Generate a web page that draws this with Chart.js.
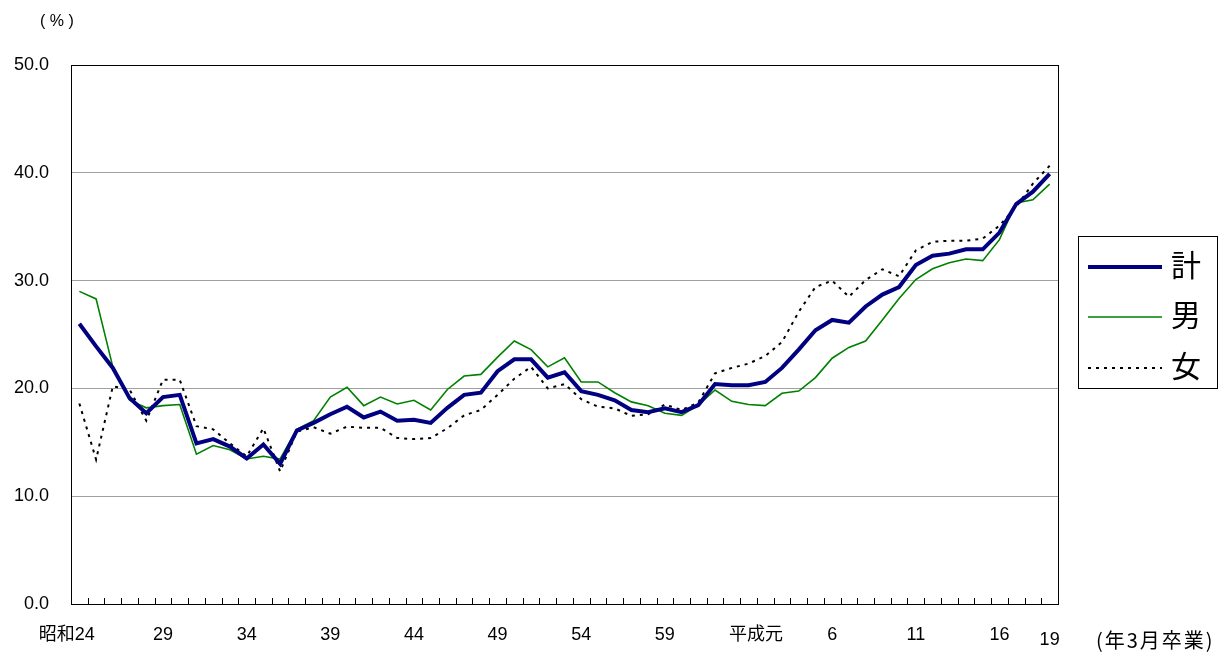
<!DOCTYPE html>
<html lang="ja">
<head>
<meta charset="utf-8">
<script src="https://cdn.jsdelivr.net/npm/chart.js@4.4.1/dist/chart.umd.min.js"></script>
<style>
  html, body { margin: 0; padding: 0; background: #fff; }
  #wrap { position: relative; width: 1232px; height: 652px; }
</style>
</head>
<body>
<div id="wrap"><canvas id="chart" width="1232" height="652"></canvas></div>
<script>
/* ── 데이터 (昭和24年 ~ 平成19年 3月卒業) ── */
var years = ['昭和24', '25', '26', '27', '28', '29', '30', '31', '32', '33',
             '34', '35', '36', '37', '38', '39', '40', '41', '42', '43',
             '44', '45', '46', '47', '48', '49', '50', '51', '52', '53',
             '54', '55', '56', '57', '58', '59', '60', '61', '62', '63',
             '平成元', '2', '3', '4', '5', '6', '7', '8', '9', '10',
             '11', '12', '13', '14', '15', '16', '17', '18', '19'];
var shownTicks = ['昭和24', '29', '34', '39', '44', '49', '54', '59', '平成元', '6', '11', '16', '19'];

var totalVals = [26.0, 23.9, 21.9, 19.1, 17.7, 19.2, 19.4, 14.9, 15.3, 14.6,
                 13.5, 14.8, 13.0, 16.1, 16.8, 17.6, 18.3, 17.3, 17.85, 17.0,
                 17.1, 16.8, 18.2, 19.4, 19.6, 21.6, 22.7, 22.7, 21.0, 21.5,
                 19.75, 19.4, 18.9, 18.0, 17.8, 18.15, 17.8, 18.45, 20.4, 20.3,
                 20.3, 20.6, 21.9, 23.6, 25.4, 26.35, 26.1, 27.6, 28.7, 29.4,
                 31.45, 32.3, 32.5, 32.9, 32.9, 34.45, 37.1, 38.25, 39.9];
var maleVals = [29.0, 28.3, 22.0, 18.9, 18.2, 18.4, 18.5, 13.9, 14.7, 14.3,
                13.45, 13.7, 13.45, 16.2, 17.0, 19.2, 20.1, 18.4, 19.2, 18.55,
                18.9, 18.0, 19.9, 21.15, 21.3, 22.9, 24.4, 23.6, 22.0, 22.85,
                20.6, 20.6, 19.6, 18.75, 18.4, 17.7, 17.5, 18.45, 19.85, 18.8,
                18.5, 18.4, 19.55, 19.75, 21.0, 22.8, 23.8, 24.4, 26.35, 28.35,
                30.1, 31.1, 31.65, 32.0, 31.85, 33.8, 37.2, 37.5, 38.95];
var femaleVals = [18.6, 13.4, 20.2, 19.9, 17.0, 20.8, 20.8, 16.5, 16.2, 14.9,
                  13.7, 16.3, 12.3, 16.0, 16.4, 15.8, 16.45, 16.35, 16.35, 15.4,
                  15.3, 15.4, 16.3, 17.5, 18.0, 19.4, 20.9, 22.0, 20.0, 20.4,
                  19.0, 18.3, 18.15, 17.45, 17.6, 18.5, 18.0, 18.7, 21.4, 21.9,
                  22.3, 23.0, 24.3, 27.1, 29.4, 30.0, 28.5, 30.05, 31.05, 30.4,
                  32.8, 33.6, 33.7, 33.7, 33.9, 35.1, 36.85, 39.0, 40.65];

var FONT = '"Liberation Sans", Arial, "Noto Sans CJK JP", sans-serif';
var CJK = '"Noto Sans CJK JP", "Liberation Sans", sans-serif';

/* ── 枠・目盛・凡例・単位 ── */
var decorPlugin = {
  id: 'decor',
  afterDatasetsDraw: function(chart) {
    var ctx = chart.ctx, a = chart.chartArea, xs = chart.scales.x;
    ctx.save();
    // 枠
    ctx.strokeStyle = '#000';
    ctx.lineWidth = 1;
    ctx.strokeRect(Math.round(a.left) + 0.5, Math.round(a.top) + 0.5,
                   Math.round(a.right - a.left), Math.round(a.bottom - a.top));
    // x軸の内向き目盛
    var n = years.length, step = (a.right - a.left) / n;
    ctx.beginPath();
    for (var i = 1; i < n; i++) {
      var x = Math.round(xs.getPixelForValue(0) - step / 2 + i * step) + 0.5;
      ctx.moveTo(x, a.bottom);
      ctx.lineTo(x, a.bottom - 6);
    }
    ctx.stroke();

    // 単位
    ctx.fillStyle = '#000';
    ctx.textBaseline = 'middle';
    ctx.textAlign = 'left';
    ctx.font = '16px ' + FONT;
    ctx.fillText('( % )', 40, 22);
    ctx.font = '20px ' + CJK;
    ctx.letterSpacing = '2px';
    ctx.fillText('(年3月卒業)', 1096, 640);
    ctx.letterSpacing = '0px';

    // 凡例
    ctx.strokeStyle = '#000';
    ctx.lineWidth = 1;
    ctx.setLineDash([]);
    ctx.strokeRect(1078.5, 236.5, 139, 152);
    var rows = [267, 317, 368];
    chart.data.datasets.forEach(function(ds, k) {
      ctx.beginPath();
      ctx.strokeStyle = ds.borderColor;
      ctx.lineWidth = ds.borderWidth;
      ctx.setLineDash(ds.borderDash || []);
      ctx.moveTo(1088, rows[k]);
      ctx.lineTo(1162, rows[k]);
      ctx.stroke();
      ctx.setLineDash([]);
      ctx.fillStyle = '#000';
      ctx.font = '30px ' + CJK;
      ctx.fillText(ds.label, 1171, rows[k] - 2);
    });
    ctx.restore();
  }
};

// 表示ラベルの位置調整（元図の配置に合わせる）
function tickText(lab, i) {
  if (shownTicks.indexOf(lab) < 0) return '';
  if (i % 5 !== 0 && i !== years.length - 1) return '';
  if (i === 0) return lab + '     ';
  if (lab === '平成元') return '   ' + lab;
  if (i === years.length - 1) return ['', lab];
  return lab;
}

new Chart(document.getElementById('chart').getContext('2d'), {
  type: 'line',
  data: {
    labels: years,
    datasets: [{
      label: '計',
      data: totalVals,
      borderColor: '#000080',
      borderWidth: 4,
      pointRadius: 0,
      tension: 0
    }, {
      label: '男',
      data: maleVals,
      borderColor: '#008000',
      borderWidth: 1.6,
      pointRadius: 0,
      tension: 0
    }, {
      label: '女',
      data: femaleVals,
      borderColor: '#000000',
      borderWidth: 2,
      borderDash: [3, 5],
      pointRadius: 0,
      tension: 0
    }]
  },
  options: {
    responsive: false,
    animation: false,
    layout: { padding: { top: 65, right: 174, left: 0, bottom: 0 } },
    plugins: { legend: { display: false }, tooltip: { enabled: false } },
    scales: {
      x: {
        offset: true,
        grid: { display: false, drawTicks: false },
        border: { display: true, color: '#000' },
        afterFit: function(s) { s.height = 48; },
        ticks: {
          autoSkip: false,
          maxRotation: 0,
          padding: 20,
          color: '#000',
          font: function(c) {
            if (c.index === years.length - 1) return { family: FONT, size: 18, lineHeight: '10.5px' };
            return { family: FONT, size: 18 };
          },
          callback: function(v, i) { return tickText(years[i], i); }
        }
      },
      y: {
        min: 0,
        max: 50,
        grid: { color: '#a0a0a0', drawTicks: false },
        border: { display: true, color: '#000' },
        afterFit: function(s) { s.width = 71; },
        ticks: {
          stepSize: 10,
          padding: 22,
          color: '#000',
          font: { family: FONT, size: 18 },
          callback: function(v) { return v.toFixed(1); }
        }
      }
    }
  },
  plugins: [decorPlugin]
});
</script>
</body>
</html>
